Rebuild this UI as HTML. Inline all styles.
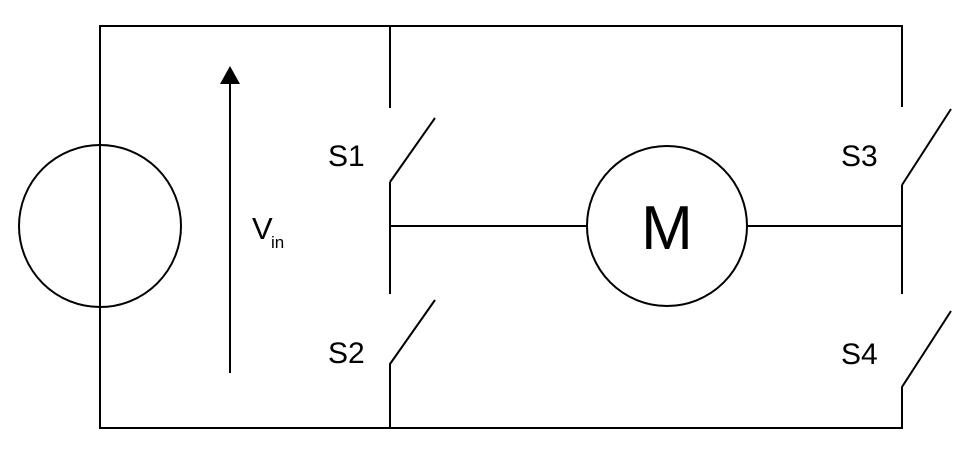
<!DOCTYPE html>
<html><head><style>html,body{margin:0;padding:0;background:#fff;}svg{display:block}</style></head>
<body>
<svg width="975" height="453" xmlns="http://www.w3.org/2000/svg">
<g stroke="#000" stroke-width="2" fill="none">
<polyline points="390,108 390,26 100,26 100,428 390,428 390,364 435,300"/>
<polyline points="390,182 435,118"/>
<line x1="390" y1="182" x2="390" y2="294"/>
<polyline points="390,26 902,26 902,107"/>
<polyline points="902,185 951,109"/>
<line x1="902" y1="185" x2="902" y2="294"/>
<polyline points="390,428 902,428 902,387 951,311"/>
<line x1="390" y1="226" x2="587" y2="226"/>
<line x1="747" y1="226" x2="902" y2="226"/>
<circle cx="100" cy="226" r="81" fill="#fff"/>
<line x1="100" y1="145" x2="100" y2="307"/>
<circle cx="667" cy="226" r="80"/>
<line x1="230" y1="373" x2="230" y2="82"/>
</g>
<polygon points="230,66 220,84 240,84" fill="#000"/>
<g font-family="Liberation Sans, sans-serif" fill="#000">
<text x="328" y="166" font-size="30">S1</text>
<text x="328" y="363" font-size="30">S2</text>
<text x="841" y="166" font-size="30">S3</text>
<text x="841" y="364" font-size="30">S4</text>
<text x="252" y="239" font-size="31">V</text>
<text x="271" y="248" font-size="17">in</text>
<text x="667" y="249" font-size="62" text-anchor="middle">M</text>
</g>
</svg>
</body></html>
